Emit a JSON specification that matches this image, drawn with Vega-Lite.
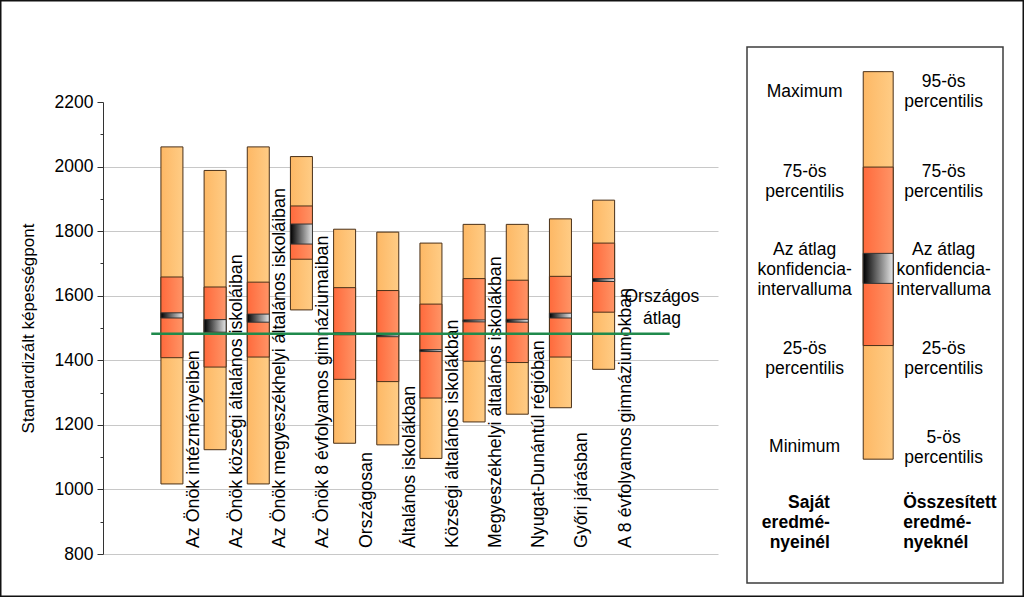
{
  "$schema": "https://vega.github.io/schema/vega-lite/v6.json",
  "width": 1024,
  "height": 597,
  "autosize": {"type": "none"},
  "padding": 0,
  "background": "white",
  "config": {
    "view": {"stroke": "#111111", "strokeWidth": 3},
    "font": "Liberation Sans"
  },
  "datasets": {
    "results": [
      {"i": 1, "label": "Az Önök intézményeiben", "min": 1017, "p25": 1408, "lo": 1531, "hi": 1547, "p75": 1658, "max": 2061},
      {"i": 2, "label": "Az Önök községi általános iskoláiban", "min": 1123, "p25": 1379, "lo": 1487, "hi": 1526, "p75": 1627, "max": 1988},
      {"i": 3, "label": "Az Önök megyeszékhelyi általános iskoláiban", "min": 1017, "p25": 1410, "lo": 1518, "hi": 1543, "p75": 1642, "max": 2061},
      {"i": 4, "label": "Az Önök 8 évfolyamos gimnáziumaiban", "min": 1556, "p25": 1713, "lo": 1760, "hi": 1822, "p75": 1878, "max": 2031},
      {"i": 5, "label": "Országosan", "min": 1143, "p25": 1341, "lo": 1479, "hi": 1485, "p75": 1625, "max": 1806},
      {"i": 6, "label": "Általános iskolákban", "min": 1138, "p25": 1334, "lo": 1473, "hi": 1479, "p75": 1616, "max": 1797},
      {"i": 7, "label": "Községi általános iskolákban", "min": 1096, "p25": 1283, "lo": 1427, "hi": 1433, "p75": 1574, "max": 1763},
      {"i": 8, "label": "Megyeszékhelyi általános iskolákban", "min": 1209, "p25": 1397, "lo": 1519, "hi": 1525, "p75": 1653, "max": 1821},
      {"i": 9, "label": "Nyugat-Dunántúl régióban", "min": 1233, "p25": 1393, "lo": 1518, "hi": 1527, "p75": 1648, "max": 1821},
      {"i": 10, "label": "Győri járásban", "min": 1253, "p25": 1410, "lo": 1531, "hi": 1546, "p75": 1660, "max": 1838},
      {"i": 11, "label": "A 8 évfolyamos gimnáziumokban", "min": 1372, "p25": 1549, "lo": 1644, "hi": 1653, "p75": 1763, "max": 1896}
    ],
    "average": [{"label": "Országos átlag", "value": 1482}],
    "legendbar": [{"min": 23.1, "p25": 44.3, "lo": 55.9, "hi": 61.5, "p75": 77.6, "max": 95.4}],
    "legendtext": [
      {"text": "Maximum", "col": "left", "level": 91.66},
      {"text": "75-ös\npercentilis", "col": "left", "level": 76.62},
      {"text": "Az átlag\nkonfidencia-\nintervalluma", "col": "left", "level": 62.13},
      {"text": "25-ös\npercentilis", "col": "left", "level": 43.66},
      {"text": "Minimum", "col": "left", "level": 25.32},
      {"text": "Saját\neredmé-\nnyeinél", "col": "lefttitle", "level": 14.87},
      {"text": "95-ös\npercentilis", "col": "right", "level": 93.53},
      {"text": "75-ös\npercentilis", "col": "right", "level": 76.62},
      {"text": "Az átlag\nkonfidencia-\nintervalluma", "col": "right", "level": 62.13},
      {"text": "25-ös\npercentilis", "col": "right", "level": 43.66},
      {"text": "5-ös\npercentilis", "col": "right", "level": 27.0},
      {"text": "Összesített\neredmé-\nnyeknél", "col": "righttitle", "level": 14.87}
    ]
  },
  "layer": [
    {
      "data": {"name": "results"},
      "layer": [
        {
          "mark": {
            "type": "bar", "width": 22, "stroke": "#4a3018", "strokeWidth": 1,
            "fill": {"gradient": "linear", "x1": 0, "y1": 0, "x2": 1, "y2": 0,
              "stops": [{"offset": 0, "color": "#fdb865"}, {"offset": 1, "color": "#ffcc85"}]}
          },
          "encoding": {
            "x": {"field": "i", "type": "quantitative", "scale": {"domain": [-0.481, 13.534], "range": [103, 718], "nice": false, "zero": false}, "axis": null},
            "y": {
              "field": "min", "type": "quantitative",
              "scale": {"domain": [800, 2200], "range": [554, 102], "nice": false, "zero": false},
              "axis": {
                "offset": -103,
                "values": [800, 850, 900, 950, 1000, 1050, 1100, 1150, 1200, 1250, 1300, 1350, 1400, 1450, 1500, 1550, 1600, 1650, 1700, 1750, 1800, 1850, 1900, 1950, 2000, 2050, 2100, 2150, 2200],
                "labelExpr": "datum.value % 200 === 0 ? datum.label : ''",
                "labelOverlap": false,
                "format": "d",
                "tickSize": {"condition": {"test": "datum.value % 200 === 0", "value": 6}, "value": 3},
                "tickColor": "#333333",
                "domainColor": "#333333",
                "grid": true,
                "gridColor": "#c8c8c8",
                "gridOpacity": {"condition": {"test": "datum.value % 200 === 0 && datum.value < 2200", "value": 1}, "value": 0},
                "labelFontSize": 17.5,
                "labelColor": "#000000",
                "labelPadding": 4,
                "title": "Standardizált képességpont",
                "titleFontSize": 17,
                "titleFontWeight": "normal",
                "titleColor": "#000000",
                "titlePadding": 17
              }
            },
            "y2": {"field": "max"}
          }
        },
        {
          "mark": {
            "type": "bar", "width": 22, "stroke": "#4a3018", "strokeWidth": 1,
            "fill": {"gradient": "linear", "x1": 0, "y1": 0, "x2": 1, "y2": 0,
              "stops": [{"offset": 0, "color": "#ff6a3c"}, {"offset": 1, "color": "#ff9466"}]}
          },
          "encoding": {
            "x": {"field": "i", "type": "quantitative"},
            "y": {"field": "p25", "type": "quantitative"},
            "y2": {"field": "p75"}
          }
        },
        {
          "mark": {
            "type": "bar", "width": 22, "stroke": "#333333", "strokeWidth": 1,
            "fill": {"gradient": "linear", "x1": 0, "y1": 0, "x2": 1, "y2": 0,
              "stops": [{"offset": 0, "color": "#000000"}, {"offset": 1, "color": "#e6e6e6"}]}
          },
          "encoding": {
            "x": {"field": "i", "type": "quantitative"},
            "y": {"field": "lo", "type": "quantitative"},
            "y2": {"field": "hi"}
          }
        },
        {
          "mark": {"type": "text", "angle": 270, "align": "left", "baseline": "middle", "dx": 6, "dy": 22, "fontSize": 17.8, "color": "#000000"},
          "encoding": {
            "x": {"field": "i", "type": "quantitative"},
            "y": {"datum": 800, "type": "quantitative"},
            "text": {"field": "label"}
          }
        },
        {
          "data": {"name": "average"},
          "mark": {"type": "rule", "color": "#1f8a4c", "strokeWidth": 2.5},
          "encoding": {
            "x": {"datum": 0.521, "type": "quantitative"},
            "x2": {"datum": 12.53},
            "y": {"field": "value", "type": "quantitative"}
          }
        },
        {
          "data": {"name": "average"},
          "mark": {"type": "text", "align": "center", "baseline": "middle", "lineBreak": " ", "lineHeight": 22, "dy": -37, "fontSize": 17.5, "color": "#000000"},
          "encoding": {
            "x": {"datum": 12.35, "type": "quantitative"},
            "y": {"field": "value", "type": "quantitative"},
            "text": {"field": "label"}
          }
        }
      ]
    },
    {
      "layer": [
        {
          "data": {"values": [{}]},
          "mark": {"type": "rect", "fill": "white", "stroke": "#3c3c3c", "strokeWidth": 1.5},
          "encoding": {
            "x": {"datum": 0, "type": "quantitative", "scale": {"domain": [0, 100], "range": [747, 1003], "nice": false, "zero": false}, "axis": null},
            "x2": {"datum": 100},
            "y": {"datum": 0, "type": "quantitative", "scale": {"domain": [0, 100], "range": [583, 47], "nice": false, "zero": false}, "axis": null},
            "y2": {"datum": 100}
          }
        },
        {
          "data": {"name": "legendbar"},
          "mark": {
            "type": "rect", "stroke": "#4a3018", "strokeWidth": 1,
            "fill": {"gradient": "linear", "x1": 0, "y1": 0, "x2": 1, "y2": 0,
              "stops": [{"offset": 0, "color": "#fdb865"}, {"offset": 1, "color": "#ffcc85"}]}
          },
          "encoding": {
            "x": {"datum": 45.4, "type": "quantitative"},
            "x2": {"datum": 57.1},
            "y": {"field": "min", "type": "quantitative"},
            "y2": {"field": "max"}
          }
        },
        {
          "data": {"name": "legendbar"},
          "mark": {
            "type": "rect", "stroke": "#4a3018", "strokeWidth": 1,
            "fill": {"gradient": "linear", "x1": 0, "y1": 0, "x2": 1, "y2": 0,
              "stops": [{"offset": 0, "color": "#ff6a3c"}, {"offset": 1, "color": "#ff9466"}]}
          },
          "encoding": {
            "x": {"datum": 45.4, "type": "quantitative"},
            "x2": {"datum": 57.1},
            "y": {"field": "p25", "type": "quantitative"},
            "y2": {"field": "p75"}
          }
        },
        {
          "data": {"name": "legendbar"},
          "mark": {
            "type": "rect", "stroke": "#333333", "strokeWidth": 1,
            "fill": {"gradient": "linear", "x1": 0, "y1": 0, "x2": 1, "y2": 0,
              "stops": [{"offset": 0, "color": "#000000"}, {"offset": 1, "color": "#e6e6e6"}]}
          },
          "encoding": {
            "x": {"datum": 45.4, "type": "quantitative"},
            "x2": {"datum": 57.1},
            "y": {"field": "lo", "type": "quantitative"},
            "y2": {"field": "hi"}
          }
        },
        {
          "data": {"name": "legendtext"},
          "transform": [{"filter": "datum.col === 'left'"}],
          "mark": {"type": "text", "align": "center", "baseline": "middle", "lineBreak": "\n", "lineHeight": 20, "fontSize": 17.5, "color": "#000000"},
          "encoding": {
            "x": {"datum": 22.5, "type": "quantitative"},
            "y": {"field": "level", "type": "quantitative"},
            "text": {"field": "text"}
          }
        },
        {
          "data": {"name": "legendtext"},
          "transform": [{"filter": "datum.col === 'right'"}],
          "mark": {"type": "text", "align": "center", "baseline": "middle", "lineBreak": "\n", "lineHeight": 20, "fontSize": 17.5, "color": "#000000"},
          "encoding": {
            "x": {"datum": 76.8, "type": "quantitative"},
            "y": {"field": "level", "type": "quantitative"},
            "text": {"field": "text"}
          }
        },
        {
          "data": {"name": "legendtext"},
          "transform": [{"filter": "datum.col === 'lefttitle'"}],
          "mark": {"type": "text", "align": "right", "baseline": "middle", "lineBreak": "\n", "lineHeight": 20, "fontSize": 17.5, "fontWeight": "bold", "color": "#000000"},
          "encoding": {
            "x": {"datum": 32.4, "type": "quantitative"},
            "y": {"field": "level", "type": "quantitative"},
            "text": {"field": "text"}
          }
        },
        {
          "data": {"name": "legendtext"},
          "transform": [{"filter": "datum.col === 'righttitle'"}],
          "mark": {"type": "text", "align": "left", "baseline": "middle", "lineBreak": "\n", "lineHeight": 20, "fontSize": 17.5, "fontWeight": "bold", "color": "#000000"},
          "encoding": {
            "x": {"datum": 61.0, "type": "quantitative"},
            "y": {"field": "level", "type": "quantitative"},
            "text": {"field": "text"}
          }
        }
      ]
    }
  ],
  "resolve": {"scale": {"x": "independent", "y": "independent"}, "axis": {"x": "independent", "y": "independent"}}
}
